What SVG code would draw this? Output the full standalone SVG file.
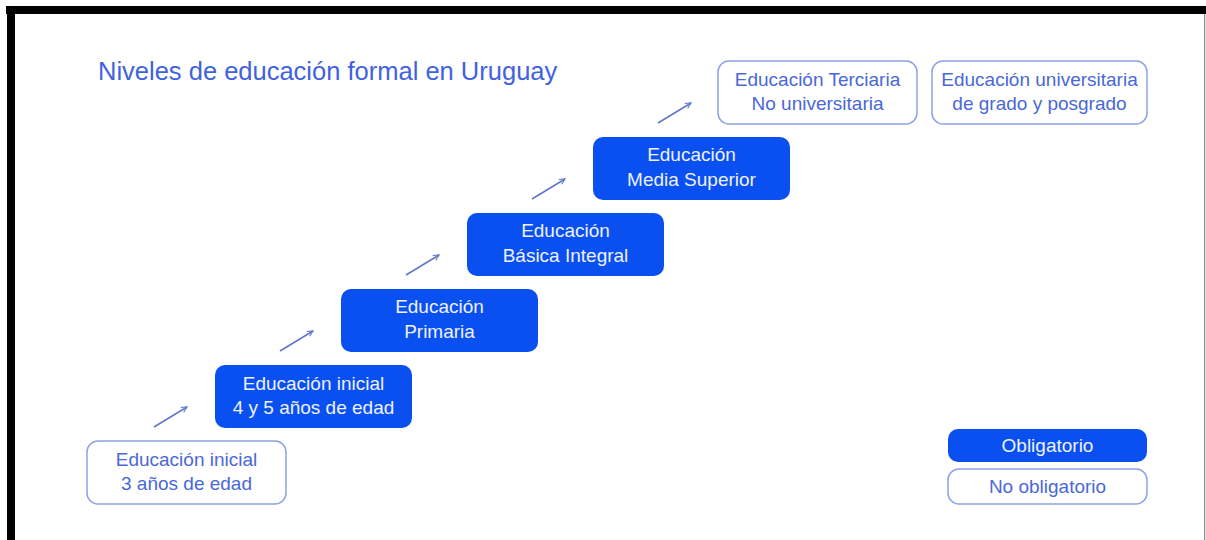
<svg xmlns="http://www.w3.org/2000/svg" width="1206" height="540" viewBox="0 0 1206 540">
<defs>
<style>
.t{font-family:"Liberation Sans",Arial,sans-serif;font-size:19px;text-anchor:middle}
.w{fill:#eef2ff}
.b{fill:#4a68d8}
.fill{fill:#0a4ff0}
.out{fill:#ffffff;stroke:#8ca2e4;stroke-width:1.5}
.arr{stroke:#6078cc;stroke-width:1.6;fill:none;marker-end:url(#ah)}
</style>
<marker id="ah" viewBox="0 0 10 10" refX="9" refY="5" markerWidth="7" markerHeight="7" orient="auto" markerUnits="userSpaceOnUse">
<path d="M1,1 L9,5 L1,9" fill="none" stroke="#6078cc" stroke-width="1.6"/>
</marker>
</defs>
<rect x="0" y="0" width="1206" height="540" fill="#ffffff"/>
<rect x="6" y="6" width="1200" height="8" fill="#000"/>
<rect x="7" y="6" width="8" height="534" fill="#000"/>
<rect x="1204" y="14" width="1.2" height="526" fill="#888"/>
<text x="98" y="80" font-family="Liberation Sans,Arial,sans-serif" font-size="25.5" fill="#3f62e0">Niveles de educación formal en Uruguay</text>
<g id="n1"><rect class="out" x="87" y="441" width="199" height="63" rx="11"/><text class="t b" x="186.5" y="466">Educación inicial</text><text class="t b" x="186.5" y="490">3 años de edad</text></g>
<g id="n2"><rect class="fill" x="215" y="365" width="197" height="63" rx="10"/><text class="t w" x="313.5" y="390">Educación inicial</text><text class="t w" x="313.5" y="414">4 y 5 años de edad</text></g>
<g id="n3"><rect class="fill" x="341" y="289" width="197" height="63" rx="10"/><text class="t w" x="439.5" y="313">Educación</text><text class="t w" x="439.5" y="338">Primaria</text></g>
<g id="n4"><rect class="fill" x="467" y="213" width="197" height="63" rx="10"/><text class="t w" x="565.5" y="237">Educación</text><text class="t w" x="565.5" y="262">Básica Integral</text></g>
<g id="n5"><rect class="fill" x="593" y="137" width="197" height="63" rx="10"/><text class="t w" x="691.5" y="161">Educación</text><text class="t w" x="691.5" y="186">Media Superior</text></g>
<g id="n6"><rect class="out" x="718" y="61" width="199" height="63" rx="11"/><text class="t b" x="817.5" y="86">Educación Terciaria</text><text class="t b" x="817.5" y="110">No universitaria</text></g>
<g id="n7"><rect class="out" x="932" y="61" width="215" height="63" rx="11"/><text class="t b" x="1039.5" y="86">Educación universitaria</text><text class="t b" x="1039.5" y="110">de grado y posgrado</text></g>
<g id="legend-oblig"><rect class="fill" x="948" y="429" width="199" height="33" rx="10"/><text class="t w" x="1047.5" y="452">Obligatorio</text></g>
<g id="legend-noob"><rect class="out" x="948" y="469" width="199" height="35" rx="11"/><text class="t b" x="1047.5" y="493">No obligatorio</text></g>
<g id="connectors">
<line class="arr" x1="154" y1="427" x2="187" y2="407"/>
<line class="arr" x1="280" y1="351" x2="313" y2="331"/>
<line class="arr" x1="406" y1="275" x2="439" y2="255"/>
<line class="arr" x1="532" y1="199" x2="565" y2="179"/>
<line class="arr" x1="658" y1="123" x2="691" y2="103"/>
</g>
</svg>
